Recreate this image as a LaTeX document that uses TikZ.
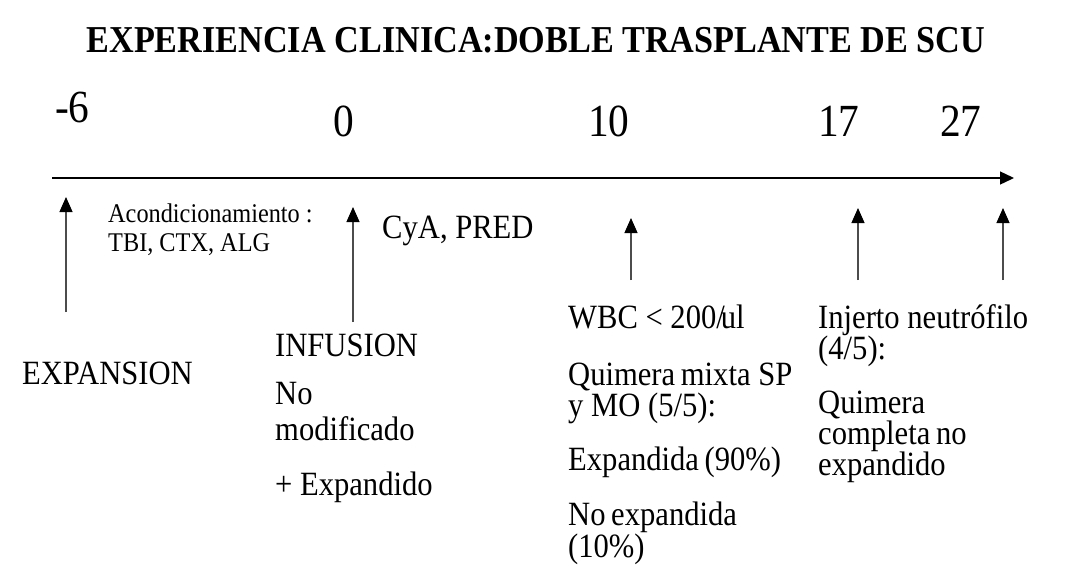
\documentclass[tikz,border=0pt]{standalone}
\usepackage{fontspec}
\setmainfont[FakeStretch=0.9]{Liberation Serif}
\usetikzlibrary{arrows.meta}
\tikzset{
  txt/.style={anchor=base west,inner sep=0pt,font=\fontsize{34}{38}\selectfont},
  small/.style={anchor=base west,inner sep=0pt,font=\fontsize{27}{30}\selectfont},
  daynum/.style={anchor=base west,inner sep=0pt,font=\fontsize{46}{50}\selectfont},
  up/.style={line width=1.2pt,draw=black!70,-{Triangle[width=13pt,length=15pt,black]}},
}
\begin{document}
\begin{tikzpicture}[x=1pt,y=-1pt]
        \useasboundingbox (0,0) rectangle (1072,574);
        % title
        \node [anchor=base,inner sep=0pt,font=\fontsize{38}{42}\bfseries] (title) at (536,52)
              {EXPERIENCIA CLINICA:DOBLE TRASPLANTE DE SCU};
        % days
        \node [daynum] (dm6) at (55,122) {-6};
        \node [daynum] (d0) at (333,136) {0};
        \node [daynum] (d10) at (588,136) {10};
        \node [daynum] (d17) at (818,136) {17};
        \node [daynum] (d27) at (940,136) {27};
        % time axis
        \coordinate (ax0) at (52,178); \coordinate (ax1) at (1014,178);
        \draw [line width=1.4pt,-{Triangle[width=13pt,length=14pt]}] (ax0) -- (ax1);
        % event arrows
        \coordinate (e1a) at (66,312);   \coordinate (e1b) at (66,197);
        \coordinate (e2a) at (353,322);  \coordinate (e2b) at (353,207);
        \coordinate (e3a) at (631,280);  \coordinate (e3b) at (631,218);
        \coordinate (e4a) at (858,280);  \coordinate (e4b) at (858,208);
        \coordinate (e5a) at (1003,280); \coordinate (e5b) at (1003,208);
        \draw [up] (e1a) -- (e1b);
        \draw [up] (e2a) -- (e2b);
        \draw [up] (e3a) -- (e3b);
        \draw [up] (e4a) -- (e4b);
        \draw [up] (e5a) -- (e5b);
        % conditioning and drugs
        \node [small] (acond) at (108,222) {Acondicionamiento :};
        \node [small] (tbi) at (108,251) {TBI, CTX, ALG};
        \node [txt] (cya) at (382,238) {CyA, PRED};
        % day -6
        \node [txt] (expan) at (22,384) {EXPANSION};
        % day 0
        \node [txt] (infu) at (275,356) {INFUSION};
        \node [txt] (nomod1) at (275,404) {No};
        \node [txt] (nomod2) at (275,440) {modificado};
        \node [txt] (expd) at (275,495) {+ Expandido};
        % day 10
        \node [txt] (wbc) at (568,328) {WBC < 200/\kern-4pt ul};
        \node [txt] (qmix1) at (568,385) {Quimera\kern-2pt\ mixta SP};
        \node [txt] (qmix2) at (568,416) {y MO (5/5):};
        \node [txt] (exp90) at (568,470) {Expandida\kern-2pt\ (90\%)};
        \node [txt] (noexp1) at (568,525) {No\kern-2pt\ expandida};
        \node [txt] (noexp2) at (568,557) {(10\%)};
        % day 17
        \node [txt] (inj1) at (818,328) {Injerto neutrófilo};
        \node [txt] (inj2) at (818,359) {(4/5):};
        \node [txt] (qcomp1) at (818,413) {Quimera};
        \node [txt] (qcomp2) at (818,444) {completa\kern-2pt\ no};
        \node [txt] (qcomp3) at (818,475) {expandido};
    \end{tikzpicture}
\end{document}
